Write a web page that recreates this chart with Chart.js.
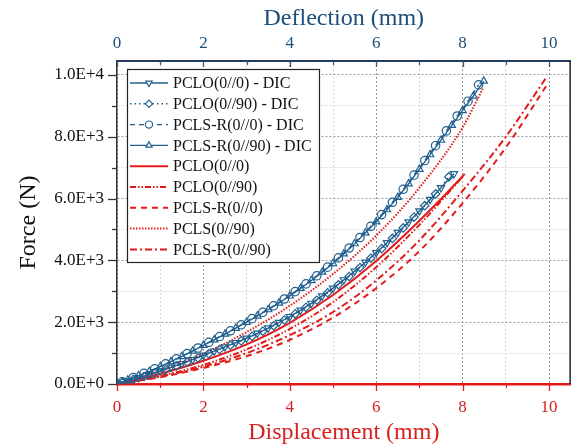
<!DOCTYPE html>
<html>
<head>
<meta charset="utf-8">
<script src="https://cdn.jsdelivr.net/npm/chart.js@4.4.0/dist/chart.umd.min.js"></script>
<style>
  html, body { margin: 0; padding: 0; background: #fff; }
  #wrap { width: 576px; height: 447px; }
</style>
</head>
<body>
<div id="wrap"><canvas id="chart" width="576" height="447"></canvas></div>
<script>
// Force-displacement curves: DIC measurements (blue, deflection) vs model (red, displacement)

// Series labels, in legend order
const seriesLabels = [
    'PCLO(0//0) - DIC',
    'PCLO(0//90) - DIC',
    'PCLS-R(0//0) - DIC',
    'PCLS-R(0//90) - DIC',
    'PCLO(0//0)',
    'PCLO(0//90)',
    'PCLS-R(0//0)',
    'PCLS(0//90)',
    'PCLS-R(0//90)'
];

// Axis ticks (labelled ones; minor ticks sit halfway between)
const xTicks = [0, 2, 4, 6, 8, 10];
const yTicks = [0, 2000, 4000, 6000, 8000, 10000];

// DIC: PCLO(0//0) - down triangles
const pcloDicX = [0, 0.25, 0.5, 0.75, 1, 1.25, 1.5, 1.75, 2, 2.25, 2.5, 2.75, 3, 3.25, 3.5, 3.75, 4, 4.25, 4.5, 4.75, 5, 5.25, 5.5, 5.75, 6, 6.25, 6.5, 6.75, 7, 7.25, 7.5, 7.8];
const pcloDicF = [0, 100, 205, 310, 420, 540, 660, 790, 930, 1065, 1200, 1340, 1480, 1640, 1810, 1990, 2180, 2390, 2610, 2850, 3100, 3370, 3650, 3940, 4250, 4570, 4900, 5240, 5600, 5970, 6350, 6800];

// DIC: PCLO(0//90) - diamonds
const pclo90DicX = [0, 0.125, 0.375, 0.625, 0.875, 1.125, 1.375, 1.625, 1.875, 2.125, 2.375, 2.625, 2.875, 3.125, 3.375, 3.625, 3.875, 4.125, 4.375, 4.625, 4.875, 5.125, 5.375, 5.625, 5.875, 6.125, 6.375, 6.625, 6.875, 7.125, 7.375, 7.68];
const pclo90DicF = [0, 45, 145, 245, 350, 465, 585, 710, 845, 980, 1115, 1255, 1395, 1545, 1710, 1885, 2070, 2270, 2480, 2710, 2950, 3210, 3480, 3770, 4070, 4380, 4710, 5050, 5400, 5770, 6150, 6700];

// DIC: PCLS-R(0//0) - circles
const pclsrDicX = [0, 0.125, 0.375, 0.625, 0.875, 1.125, 1.375, 1.625, 1.875, 2.125, 2.375, 2.625, 2.875, 3.125, 3.375, 3.625, 3.875, 4.125, 4.375, 4.625, 4.875, 5.125, 5.375, 5.625, 5.875, 6.125, 6.375, 6.625, 6.875, 7.125, 7.375, 7.625, 7.875, 8.125, 8.37];
const pclsrDicF = [0, 70, 205, 345, 490, 650, 815, 985, 1165, 1350, 1535, 1720, 1915, 2115, 2320, 2530, 2750, 2990, 3240, 3500, 3780, 4080, 4400, 4740, 5100, 5480, 5880, 6300, 6760, 7230, 7710, 8190, 8670, 9150, 9680];

// DIC: PCLS-R(0//90) - up triangles
const pclsr90DicX = [0, 0.25, 0.5, 0.75, 1, 1.25, 1.5, 1.75, 2, 2.25, 2.5, 2.75, 3, 3.25, 3.5, 3.75, 4, 4.25, 4.5, 4.75, 5, 5.25, 5.5, 5.75, 6, 6.25, 6.5, 6.75, 7, 7.25, 7.5, 7.75, 8, 8.25, 8.49];
const pclsr90DicF = [0, 130, 270, 410, 560, 725, 890, 1065, 1250, 1430, 1615, 1805, 2000, 2200, 2405, 2620, 2850, 3095, 3350, 3620, 3900, 4210, 4540, 4890, 5250, 5640, 6040, 6480, 6950, 7420, 7890, 8370, 8850, 9320, 9800];

// Model curves (red)
const pcloX = [0, 1, 2, 3, 4, 5, 6, 7, 8, 8.05];
const pcloF = [0, 330, 750, 1280, 1980, 2880, 3980, 5280, 6720, 6800];
const pclo90X = [0, 1, 2, 3, 4, 5, 6, 7, 8];
const pclo90F = [0, 260, 620, 1120, 1780, 2650, 3780, 5150, 6700];
const pclsrX = [0, 1, 2, 3, 4, 5, 6, 7, 8, 9, 10];
const pclsrF = [0, 220, 520, 900, 1430, 2150, 3100, 4300, 5850, 7650, 9780];
const pcls90X = [0, 1, 2, 3, 4, 5, 6, 7, 8, 8.47];
const pcls90F = [0, 420, 980, 1680, 2530, 3560, 4800, 6350, 8300, 9560];
const pclsr90X = [0, 1, 2, 3, 4, 5, 6, 7, 8, 9, 9.92];
const pclsr90F = [0, 240, 560, 1000, 1580, 2330, 3350, 4650, 6250, 8000, 9880];

const BLUE = '#22608e';
const BLUE_TEXT = '#1d4f7a';
const RED = '#e31b1b';
const RED_TEXT = '#d82222';
const FONT = "'Liberation Serif', 'Times New Roman', serif";

Chart.defaults.font.family = FONT;

function pts(xs, ys) {
    return xs.map((x, i) => ({ x: x, y: ys[i] }));
}

// Format 10000 as 1.0E+4
function sciLabel(v) {
    if (v === 0) return '0.0E+0';
    const e = Math.floor(Math.log10(v) + 1e-9);
    return (v / Math.pow(10, e)).toFixed(1) + 'E+' + e;
}

// Major ticks from the labelled list, minor ones halfway between
function withMinor(major) {
    const step = (major[1] - major[0]) / 2;
    const out = [];
    for (let v = major[0]; v <= major[major.length - 1] + 1e-9; v += step) {
        out.push({ value: v });
    }
    return out;
}

function dicSet(i, xs, ys, dash, style, rot) {
    return {
        label: seriesLabels[i],
        data: pts(xs, ys),
        xAxisID: 'x2',
        borderColor: BLUE,
        borderWidth: 1.4,
        borderDash: dash,
        pointStyle: style,
        pointRotation: rot,
        pointRadius: 4.2,
        pointBorderWidth: 1.2,
        pointBorderColor: BLUE,
        pointBackgroundColor: 'rgba(255,255,255,0)',
        tension: 0
    };
}

function modelSet(i, xs, ys, dash) {
    return {
        label: seriesLabels[i],
        data: pts(xs, ys),
        xAxisID: 'x',
        borderColor: RED,
        borderWidth: 2,
        borderDash: dash,
        pointRadius: 0,
        cubicInterpolationMode: 'monotone'
    };
}

// Major grid lines darker than minor ones
function gridColor(list) {
    return c => (c.tick && list.includes(Math.round(c.tick.value))) ? '#9a9a9a' : '#d6d6d6';
}

// Tick marks, right frame line
const axisTicks = {
    id: 'axisTicks',
    afterDraw(chart) {
        const { ctx, chartArea: a, scales } = chart;
        ctx.save();
        ctx.lineWidth = 1.3;
        // left axis, outward
        ctx.strokeStyle = '#333';
        scales.y.ticks.forEach(t => {
            const y = Math.round(scales.y.getPixelForValue(t.value)) + 0.5;
            const len = yTicks.includes(Math.round(t.value)) ? 9 : 5;
            ctx.beginPath(); ctx.moveTo(a.left - len, y); ctx.lineTo(a.left, y); ctx.stroke();
        });
        scales.x.ticks.forEach(t => {
            const x = Math.round(scales.x.getPixelForValue(t.value)) + 0.5;
            const major = xTicks.includes(Math.round(t.value));
            // bottom axis, outward
            ctx.strokeStyle = RED;
            ctx.beginPath(); ctx.moveTo(x, a.bottom); ctx.lineTo(x, a.bottom + (major ? 7 : 4)); ctx.stroke();
            // top axis, inward
            ctx.strokeStyle = BLUE;
            ctx.beginPath(); ctx.moveTo(x, a.top); ctx.lineTo(x, a.top + (major ? 6 : 4)); ctx.stroke();
        });
        ctx.strokeStyle = '#222';
        ctx.lineWidth = 1.5;
        ctx.beginPath(); ctx.moveTo(a.right - 0.5, a.top); ctx.lineTo(a.right - 0.5, a.bottom); ctx.stroke();
        ctx.restore();
    }
};

// Boxed legend with line + marker samples
const legendBox = {
    id: 'legendBox',
    afterDraw(chart) {
        const ctx = chart.ctx;
        const left = 127, top = 69, w = 192, h = 193;
        ctx.save();
        ctx.fillStyle = '#fff';
        ctx.fillRect(left, top, w, h);
        ctx.strokeStyle = '#222';
        ctx.lineWidth = 1.2;
        ctx.strokeRect(left + 0.5, top + 0.5, w, h);
        chart.data.datasets.forEach((ds, i) => {
            const y = 83 + i * 20.8;
            ctx.save();
            ctx.strokeStyle = ds.borderColor;
            ctx.lineWidth = ds.borderWidth;
            ctx.setLineDash(ds.borderDash || []);
            ctx.beginPath(); ctx.moveTo(130, y); ctx.lineTo(168, y); ctx.stroke();
            ctx.restore();
            if (ds.pointRadius > 0) {
                ctx.save();
                ctx.strokeStyle = ds.pointBorderColor;
                ctx.fillStyle = '#fff';
                ctx.lineWidth = ds.pointBorderWidth;
                Chart.helpers.drawPoint(ctx, {
                    pointStyle: ds.pointStyle,
                    rotation: ds.pointRotation || 0,
                    radius: 3.6,
                    borderWidth: ds.pointBorderWidth
                }, 149, y);
                ctx.restore();
            }
            ctx.fillStyle = '#111';
            ctx.font = '16px ' + FONT;
            ctx.textBaseline = 'middle';
            ctx.textAlign = 'left';
            ctx.fillText(ds.label, 173, y + 1);
        });
        ctx.restore();
    }
};

const xTickOpts = color => ({
    autoSkip: false,
    maxRotation: 0,
    color: color,
    font: { size: 17 },
    callback: v => xTicks.includes(Math.round(v)) && Math.abs(v - Math.round(v)) < 1e-6 ? String(Math.round(v)) : ''
});

new Chart(document.getElementById('chart'), {
    type: 'line',
    data: {
        datasets: [
            dicSet(0, pcloDicX, pcloDicF, [], 'triangle', 180),
            dicSet(1, pclo90DicX, pclo90DicF, [1.5, 3], 'rectRot', 0),
            dicSet(2, pclsrDicX, pclsrDicF, [5, 4], 'circle', 0),
            dicSet(3, pclsr90DicX, pclsr90DicF, [], 'triangle', 0),
            modelSet(4, pcloX, pcloF, []),
            modelSet(5, pclo90X, pclo90F, [6, 2, 1.5, 2, 1.5, 2]),
            modelSet(6, pclsrX, pclsrF, [6, 5]),
            modelSet(7, pcls90X, pcls90F, [1.5, 1.5]),
            modelSet(8, pclsr90X, pclsr90F, [7, 3, 2, 3])
        ]
    },
    options: {
        responsive: false,
        animation: false,
        devicePixelRatio: 1,
        layout: { padding: { left: 0, right: 2, top: 0, bottom: 0 } },
        plugins: {
            legend: { display: false },
            tooltip: { enabled: false }
        },
        scales: {
            x: {
                type: 'linear',
                position: 'bottom',
                min: 0,
                max: 10.5,
                afterFit: s => { s.height = 63; },
                afterBuildTicks: s => { s.ticks = withMinor(xTicks); },
                ticks: Object.assign(xTickOpts(RED_TEXT), { padding: 13 }),
                grid: { color: gridColor(xTicks), lineWidth: 1, drawTicks: false },
                border: { color: RED, width: 2.5, dash: [2, 2] },
                title: {
                    display: true,
                    text: 'Displacement (mm)',
                    color: RED_TEXT,
                    font: { size: 24 },
                    padding: { top: 0, bottom: 0 }
                }
            },
            x2: {
                type: 'linear',
                position: 'top',
                min: 0,
                max: 10.5,
                afterFit: s => { s.height = 61; },
                afterBuildTicks: s => { s.ticks = withMinor(xTicks); },
                ticks: Object.assign(xTickOpts(BLUE_TEXT), { padding: 7 }),
                grid: { drawOnChartArea: false, drawTicks: false },
                border: { color: '#26395e', width: 2 },
                title: {
                    display: true,
                    text: 'Deflection (mm)',
                    color: BLUE_TEXT,
                    font: { size: 24 },
                    padding: { top: 4, bottom: 0 }
                }
            },
            y: {
                type: 'linear',
                min: 0,
                max: 10450,
                afterFit: s => { s.width = 117; },
                afterBuildTicks: s => { s.ticks = withMinor(yTicks); },
                ticks: {
                    autoSkip: false,
                    color: '#111',
                    font: { size: 17 },
                    padding: 13,
                    callback: v => {
                        const r = Math.round(v);
                        return yTicks.includes(r) ? sciLabel(r) : '';
                    }
                },
                grid: { color: gridColor(yTicks), lineWidth: 1, drawTicks: false },
                border: { color: '#333', width: 1.5, dash: [2, 2] },
                title: {
                    display: true,
                    text: 'Force (N)',
                    color: '#111',
                    font: { size: 24 },
                    padding: { top: 14, bottom: 0 }
                }
            }
        }
    },
    plugins: [axisTicks, legendBox]
});
</script>
</body>
</html>
